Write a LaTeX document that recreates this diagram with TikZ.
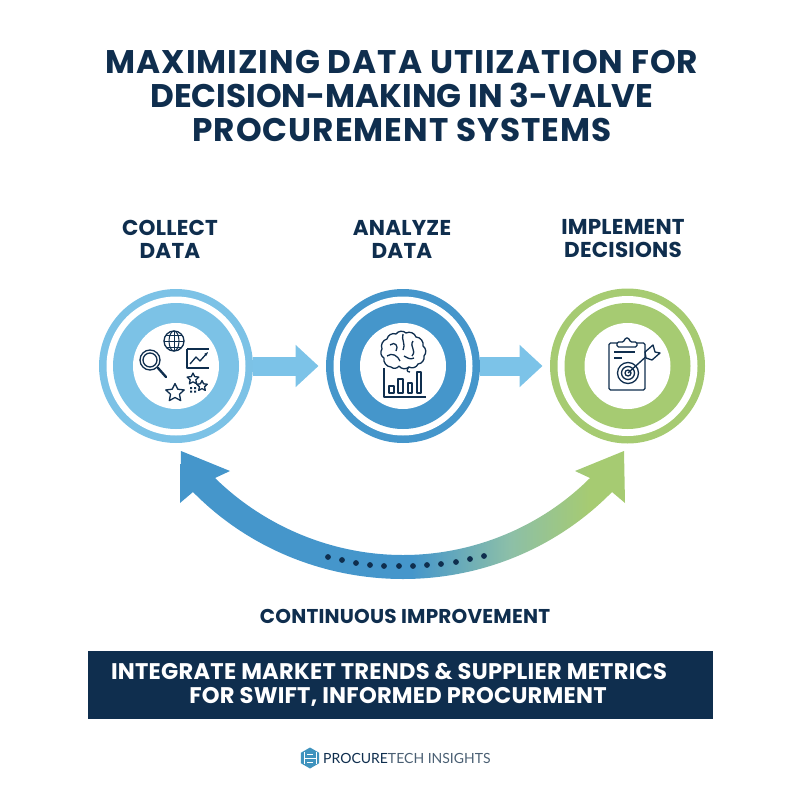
\documentclass[tikz,border=0pt]{standalone}
\usepackage{fontspec}
\usepackage{xcolor}
\usetikzlibrary{arrows.meta,shapes.geometric}
\setmainfont{Poppins}
\newfontfamily\titlefont[LetterSpace=3.0]{Poppins}
\newfontfamily\titletight[LetterSpace=0.0]{Poppins}
\newfontfamily\headfont[LetterSpace=1.0]{Poppins}
\newfontfamily\logofont{Lato}
\definecolor{navy}{HTML}{0F2E4E}
\definecolor{skyring}{HTML}{7CC2E6}
\definecolor{bluering}{HTML}{4596CB}
\definecolor{greenring}{HTML}{A6CB72}
\definecolor{flowblue}{HTML}{7CC3E8}
\definecolor{midblend}{HTML}{8CBFA8}
\definecolor{logoblue}{HTML}{3F93BE}
\definecolor{logogrey}{HTML}{4A5F73}
\pgfdeclarehorizontalshading{loopblend}{100bp}{
  color(0bp)=(bluering); color(51bp)=(bluering); color(62bp)=(midblend); color(71bp)=(greenring); color(100bp)=(greenring)}
\begin{document}
\begin{tikzpicture}[x=1pt,y=-1pt]
	 \tikzstyle{title}=[text=navy,font=\titlefont\bfseries\fontsize{32.7}{34}\selectfont,align=center,inner sep=0pt]
	 \tikzstyle{head}=[text=navy,font=\headfont\bfseries\fontsize{21.5}{23}\selectfont,align=center,inner sep=0pt]
	 \tikzstyle{band}=[text=white,font=\headfont\bfseries\fontsize{22.6}{24}\selectfont,align=center,inner sep=0pt]
	 \tikzstyle{disc}=[circle,inner sep=0pt,outer sep=0pt]
	 \tikzstyle{flow} = [draw=flowblue,line width=19pt,-{Triangle[length=23pt,width=41pt]},shorten >=7.5pt]
	 \tikzstyle{icon} = [draw=navy,line width=1.3pt,fill=none,line join=round]
	 \useasboundingbox (0,0) rectangle (800,800);

	 \node[title] (heading) at (402,96) {MAXIMIZING DATA UTIIZATION FOR\\{\titletight\bfseries DECISION-MAKING IN 3-VALVE}\\PROCUREMENT SYSTEMS};

	 \node[head] (collecthead) at (170,239) {COLLECT\\DATA};
	 \node[head] (analyzehead) at (402,239) {ANALYZE\\DATA};
	 \node[head] (implementhead) at (623,239) {IMPLEMENT\\DECISIONS};

	 % three rings
	 \node[disc,minimum size=154pt,fill=skyring] (collect) at (176,366) {};
	 \node[disc,minimum size=139pt,fill=white] at (collect) {};
	 \node[disc,minimum size=126pt,fill=skyring] at (collect) {};
	 \node[disc,minimum size=86pt,fill=white] (collectin) at (collect) {};

	 \node[disc,minimum size=154pt,fill=bluering] (analyze) at (403,366) {};
	 \node[disc,minimum size=139pt,fill=white] at (analyze) {};
	 \node[disc,minimum size=126pt,fill=bluering] at (analyze) {};
	 \node[disc,minimum size=86pt,fill=white] (analyzein) at (analyze) {};

	 \node[disc,minimum size=155pt,fill=greenring] (implement) at (627.5,366) {};
	 \node[disc,minimum size=140pt,fill=white] at (implement) {};
	 \node[disc,minimum size=126pt,fill=greenring] at (implement) {};
	 \node[disc,minimum size=86pt,fill=white] (implementin) at (implement) {};

	 \draw[flow] (collect) -- (analyze);
	 \draw[flow] (analyze) -- (implement);

	 % feedback arc
	 \coordinate (looptipa) at (181,451);
	 \coordinate (looptipb) at (624,451);
	 \shade[shading=loopblend] (looptipa) -- (230,471) -- (215,478)
		.. controls (265,527) and (333,555) .. (403,555)
		.. controls (473,555) and (541,527) .. (590,478)
		-- (575,471) -- (looptipb) -- (625,503) -- (612,492)
		.. controls (557,548) and (482,579) .. (403,579)
		.. controls (324,579) and (248,548) .. (193,492)
		-- (180,503) -- cycle;
	 \foreach \dx/\dy in {328/557,342/560,356/563,370/565,384/566,399/566,413/566,427/565,441/564,456/562,470/559,484/556}
		\fill[navy] (\dx,\dy) circle (2.9pt);

	 % icons, collect
	 \draw[icon] (174,341) circle (10pt);
	 \draw[icon,line width=1pt] (164,341) -- (184,341) (174,331) -- (174,351) (166,335) -- (182,335) (166,347) -- (182,347);
	 \draw[icon,line width=1pt] (174,341) ellipse (5pt and 10pt);
	 \draw[icon] (150,360) circle (10pt);
	 \draw[icon] (150,360) circle (7pt);
	 \draw[icon,line width=2.4pt,line cap=round] (158,368) -- (166,377);
	 \draw[icon] (187,349) -- (187,368) -- (209,368) (187,349) -- (209,349);
	 \draw[icon,-{Stealth[length=4pt]}] (190,364) -- (196,357) -- (200,361) -- (208,352);
	 \foreach \sx/\sy/\sr in {175/393/9.5,193/379/6,202/386/5.5}
		\draw[icon] (\sx,\sy-\sr) -- ++(.29*\sr,.6*\sr) -- ++(.68*\sr,.08*\sr) -- ++(-.5*\sr,.45*\sr) -- ++(.13*\sr,.67*\sr) -- ++(-.6*\sr,-.33*\sr) -- ++(-.6*\sr,.33*\sr) -- ++(.13*\sr,-.67*\sr) -- ++(-.5*\sr,-.45*\sr) -- ++(.68*\sr,-.08*\sr) -- cycle;
	 \fill[navy] (190,387) rectangle (192,389) (194,387) rectangle (196,389) (190,390.5) rectangle (192,392.5) (194,390.5) rectangle (196,392.5);

	 % icons, analyze
	 \draw[icon] (384,358) to[bend left=50] (382,349) to[bend left=50] (387,339) to[bend left=50] (396,334) to[bend left=50] (406,333) to[bend left=50] (416,337) to[bend left=50] (423,346) to[bend left=50] (424,356) to[bend left=50] (418,364) to[bend left=50] (409,367) to[bend left=50] (399,366) to[bend left=50] (391,367) to[bend left=50] (384,358);
	 \draw[icon] (409,367) .. controls (406,370) and (407,372) .. (410,372);
	 \draw[icon] (390,345) .. controls (395,341) and (399,346) .. (396,351) (403,334) .. controls (401,340) and (406,343) .. (403,350) (413,341) .. controls (409,347) and (417,350) .. (412,356) (387,356) .. controls (392,352) and (398,356) .. (400,361) (404,356) .. controls (408,358) and (410,360) .. (414,358);
	 \draw[icon] (384,368) -- (384,397) -- (426,397);
	 \draw[icon] (389,386) rectangle (394,393) (398,379) rectangle (403,393) (408,383) rectangle (412,393) (417,372) rectangle (421,393);

	 % icons, implement
	 \draw[icon,rounded corners=1.5pt] (609,343) rectangle (645,390);
	 \draw[icon,fill=white,rounded corners=1.5pt] (617,347) -- (617,342) -- (624,342) -- (625,338) -- (629,338) -- (630,342) -- (637,342) -- (637,347) -- cycle;
	 \draw[icon] (614,352) -- (635,352) (614,358) -- (622,358);
	 \fill[white] (628,373) circle (12pt);
	 \draw[icon] (628,373) circle (10.5pt) (628,373) circle (6.5pt) (628,373) circle (3pt);
	 \draw[icon] (628,373) -- (650,353);
	 \draw[icon,fill=white] (645,352) -- (653,345) -- (655,352) -- (660,353) -- (652,360) -- (646,358) -- cycle;

	 % banner
	 \node[fill=navy,minimum width=625pt,minimum height=68pt,inner sep=0pt] (banner) at (400,685) {};
	 \node[band] (bandtext) at (389,685) {INTEGRATE MARKET TRENDS \& SUPPLIER METRICS\\\hspace*{18pt}FOR SWIFT, INFORMED PROCURMENT};
	 \node[head,font=\headfont\bfseries\fontsize{20}{22}\selectfont] (loopnote) at (405,616) {CONTINUOUS IMPROVEMENT};

	 % footer logo
	 \node[regular polygon,regular polygon sides=6,shape border rotate=30,fill=logoblue,minimum size=21pt,inner sep=0pt] (logo) at (310,758) {};
	 \draw[white,line width=1pt] (304,752) -- (304,764) (316,752) -- (316,764) (304,758) -- (316,758) (307,754) -- (313,754) (307,762) -- (313,762);
	 \node[anchor=west,inner sep=0pt,font=\logofont\fontsize{14}{17}\selectfont] (logotext) at (323,758) {\textcolor{navy}{PROCURE}\textcolor{logogrey}{TECH INSIGHTS}};
\end{tikzpicture}
\end{document}
